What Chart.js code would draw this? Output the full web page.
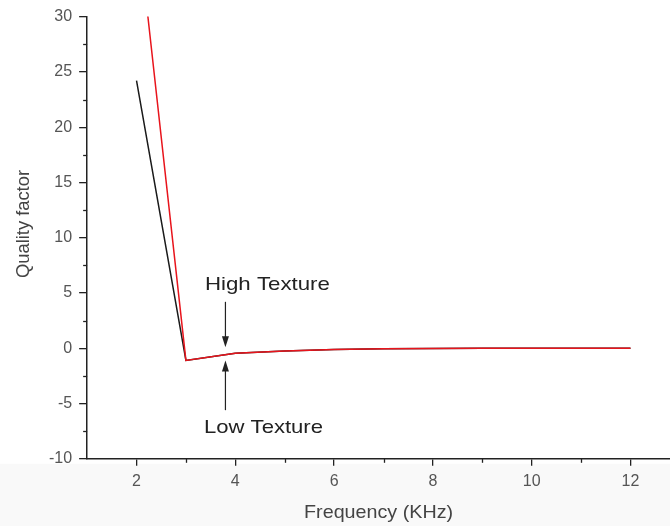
<!DOCTYPE html>
<html>
<head>
<meta charset="utf-8">
<script src="https://cdn.jsdelivr.net/npm/chart.js@4.4.1/dist/chart.umd.min.js"></script>
<style>
  html, body { margin: 0; padding: 0; background: #fff; }
  canvas { display: block; }
</style>
</head>
<body>
<canvas id="qualityChart" width="670" height="526"></canvas>
<script>
// values
const frequency = [2, 3, 4, 5, 6, 7, 8, 9, 10, 11, 12];
const blackSeries = [24.2, -1.1, -0.45, -0.25, -0.12, -0.05, -0.02, 0, 0, 0, 0];
const redSeries = [39.3, -1.1, -0.45, -0.25, -0.12, -0.05, -0.02, 0, 0, 0, 0];
const xTickValues = [2, 4, 6, 8, 10, 12];
const yTickValues = [-10, -5, 0, 5, 10, 15, 20, 25, 30];
const xMinorTicks = [3, 5, 7, 9, 11];
const yMinorTicks = [-7.5, -2.5, 2.5, 7.5, 12.5, 17.5, 22.5, 27.5];

const FONT = '"Liberation Sans", Arial, sans-serif';

function toPoints(xs, ys) {
    return xs.map((x, i) => ({ x: x, y: ys[i] }));
}

// text squeezed/stretched to the width it has in the picture
function drawText(ctx, text, cx, baseline, size, width) {
    ctx.save();
    ctx.font = size + 'px ' + FONT;
    const w = ctx.measureText(text).width;
    const sx = width ? width / w : 1;
    ctx.translate(cx, baseline);
    ctx.scale(sx, 1);
    ctx.textAlign = 'center';
    ctx.textBaseline = 'alphabetic';
    ctx.fillText(text, 0, 0);
    ctx.restore();
}

function drawArrow(ctx, x, y1, y2) {
    // from y1 to tip at y2
    const dir = y2 > y1 ? 1 : -1;
    ctx.beginPath();
    ctx.moveTo(x, y1);
    ctx.lineTo(x, y2 - dir * 8);
    ctx.stroke();
    ctx.beginPath();
    ctx.moveTo(x, y2);
    ctx.lineTo(x - 3.5, y2 - dir * 11);
    ctx.lineTo(x + 3.5, y2 - dir * 11);
    ctx.closePath();
    ctx.fill();
}

const decorations = {
    id: 'decorations',
    beforeDraw(chart) {
        const { ctx, scales: { y } } = chart;
        ctx.save();
        ctx.fillStyle = '#f9f9f9';
        ctx.fillRect(0, y.bottom + 5, chart.width, chart.height - y.bottom - 5);
        ctx.restore();
    },
    afterDraw(chart) {
        const { ctx, scales: { x, y } } = chart;
        ctx.save();
        ctx.strokeStyle = '#222';
        ctx.fillStyle = '#222';
        ctx.lineWidth = 1.3;

        // minor ticks
        xMinorTicks.forEach(v => {
            const px = Math.round(x.getPixelForValue(v)) + 0.5;
            ctx.beginPath();
            ctx.moveTo(px, y.bottom);
            ctx.lineTo(px, y.bottom + 4);
            ctx.stroke();
        });
        yMinorTicks.forEach(v => {
            const py = Math.round(y.getPixelForValue(v)) + 0.5;
            ctx.beginPath();
            ctx.moveTo(x.left, py);
            ctx.lineTo(x.left - 4, py);
            ctx.stroke();
        });

        // axis titles
        ctx.fillStyle = '#444';
        drawText(ctx, 'Frequency (KHz)', (x.left + x.right) / 2, 518, 19, 149);
        ctx.save();
        ctx.translate(29, 224);
        ctx.rotate(-Math.PI / 2);
        drawText(ctx, 'Quality factor', 0, 0, 18, 108);
        ctx.restore();

        // annotations
        ctx.fillStyle = '#222';
        ctx.strokeStyle = '#222';
        ctx.lineWidth = 1.2;
        const ax = x.getPixelForValue(3.8);
        drawArrow(ctx, ax, y.getPixelForValue(4.2), y.getPixelForValue(0.1));
        drawArrow(ctx, ax, y.getPixelForValue(-5.6), y.getPixelForValue(-1.1));
        drawText(ctx, 'High Texture', x.getPixelForValue(4.65), y.getPixelForValue(5.3), 19, 125);
        drawText(ctx, 'Low Texture', x.getPixelForValue(4.57), y.getPixelForValue(-7.7), 19, 119);
        ctx.restore();
    }
};

new Chart(document.getElementById('qualityChart').getContext('2d'), {
    type: 'line',
    data: {
        datasets: [
            // red first so it is drawn on top of the black one
            { label: 'High', data: toPoints(frequency, redSeries), borderColor: '#e8141c', borderWidth: 1.5, pointRadius: 0, tension: 0 },
            { label: 'Low', data: toPoints(frequency, blackSeries), borderColor: '#1a1a1a', borderWidth: 1.5, pointRadius: 0, tension: 0 }
        ]
    },
    options: {
        responsive: false,
        animation: false,
        layout: { padding: { left: 42, top: 11, right: 0, bottom: 29 } },
        plugins: { legend: { display: false }, tooltip: { enabled: false } },
        scales: {
            x: {
                type: 'linear', min: 1, max: 12.8,
                afterBuildTicks: s => { s.ticks = xTickValues.map(v => ({ value: v })); },
                grid: { drawOnChartArea: false, drawTicks: true, tickLength: 7, color: '#222', lineWidth: 1.3 },
                border: { display: true, color: '#222', width: 1.5 },
                ticks: { color: '#555', font: { family: FONT, size: 16 }, padding: 6, maxRotation: 0, autoSkip: false }
            },
            y: {
                type: 'linear', min: -10, max: 30,
                afterBuildTicks: s => { s.ticks = yTickValues.map(v => ({ value: v })); },
                grid: { drawOnChartArea: false, drawTicks: true, tickLength: 8, color: '#222', lineWidth: 1.3 },
                border: { display: true, color: '#222', width: 1.5 },
                ticks: { color: '#555', font: { family: FONT, size: 16 }, padding: 7 }
            }
        }
    },
    plugins: [decorations]
});
</script>
</body>
</html>
